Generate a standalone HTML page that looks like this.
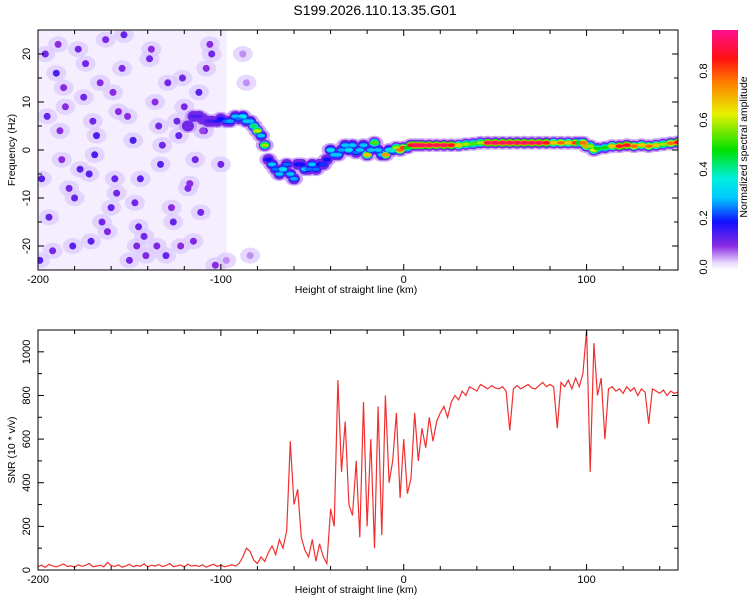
<!DOCTYPE html>
<html><head><meta charset="utf-8">
<style>
body{margin:0;background:#fff;}
svg text{font-family:"Liberation Sans",sans-serif;fill:#000;}
</style></head>
<body>
<svg id="chart" width="750" height="600" xmlns="http://www.w3.org/2000/svg">
<defs>
<linearGradient id="cbar" x1="0" y1="1" x2="0" y2="0">
<stop offset="0" stop-color="#ffffff"/>
<stop offset="0.03" stop-color="#e8d8ff"/>
<stop offset="0.1" stop-color="#8a2be2"/>
<stop offset="0.2" stop-color="#1010ff"/>
<stop offset="0.3" stop-color="#00c8ff"/>
<stop offset="0.38" stop-color="#00f0e0"/>
<stop offset="0.5" stop-color="#00e000"/>
<stop offset="0.65" stop-color="#e8f000"/>
<stop offset="0.78" stop-color="#ff8000"/>
<stop offset="0.88" stop-color="#ff1010"/>
<stop offset="1" stop-color="#ff1090"/>
</linearGradient>
<clipPath id="clipTop"><rect x="38" y="30" width="640" height="240"/></clipPath>
<clipPath id="clipBot"><rect x="38" y="330" width="640" height="240"/></clipPath>
</defs>
<text x="375" y="15" text-anchor="middle" font-size="14">S199.2026.110.13.35.G01</text>
<g id="topPanel"></g>
<g id="botPanel"></g>
<g id="cbPanel"></g>
</svg>
<script>
// ---- data ----
const xMin=-200, xMax=150;
const xTicks=[-200,-100,0,100];
const freqTicks=[-20,-10,0,10,20];
const snrTicks=[0,200,400,600,800,1000];
const cbTicks=[0.0,0.2,0.4,0.6,0.8];
const ridgeX=[-118,-115,-112,-110,-107,-105,-102,-100,-97,-95,-92,-90,-88,-86,-84,-82,-80,-78,-76,-74,-72,-70,-68,-66,-64,-62,-60,-58,-56,-54,-52,-50,-48,-46,-44,-42,-40,-38,-36,-34,-32,-30,-28,-26,-24,-22,-20,-18,-16,-14,-12,-10,-8,-6,-4,-2,0,2,4,6,8,10,14,18,22,26,30,34,38,42,46,50,54,58,62,66,70,74,78,82,86,90,94,96,98,100,102,104,106,110,114,118,122,126,130,134,138,142,146,150];
const ridgeF=[5,7,7,6.5,6,6,6,6.5,6,6,7,6.5,7,6,6,5,4,3,1,-2,-3,-4,-5,-4,-3,-5,-6,-3,-3,-4,-4,-3,-4,-3,-3,-2,0,-1,-1,0,1,0,1,-0.5,0,1,-1,0,1.5,0,-1,-1,0,0,0.5,0,0.5,0.5,1,1,1,1,1,1,1,1,1,1.2,1.3,1.5,1.5,1.5,1.5,1.5,1.5,1.5,1.5,1.5,1.5,1.5,1.5,1.5,1.5,1.5,1.5,0.8,0.8,0,0.3,0.5,0.8,0.8,1,0.8,1,0.8,1,1.2,1.4,1.6];
const ridgeA=[0.12,0.15,0.15,0.14,0.15,0.16,0.18,0.2,0.25,0.28,0.3,0.25,0.35,0.3,0.3,0.45,0.62,0.3,0.6,0.2,0.3,0.25,0.3,0.35,0.25,0.3,0.28,0.2,0.2,0.3,0.25,0.3,0.25,0.2,0.22,0.2,0.35,0.3,0.3,0.28,0.3,0.35,0.3,0.25,0.3,0.3,0.7,0.3,0.55,0.3,0.3,0.75,0.35,0.4,0.6,0.8,0.85,0.5,0.9,0.95,0.95,0.95,0.95,0.95,0.95,0.9,0.7,0.6,0.55,0.6,0.95,0.95,0.95,0.95,0.95,0.95,0.95,0.95,0.9,0.7,0.8,0.7,0.85,0.5,0.8,0.75,0.6,0.65,0.5,0.5,0.7,0.9,0.9,0.8,0.7,0.8,0.7,0.6,0.8,0.9];
const noiseX=[-196,-190,-185,-178,-172,-166,-160,-154,-148,-142,-136,-130,-124,-118,-112,-106,-100,-194,-188,-181,-175,-169,-163,-157,-151,-145,-139,-133,-127,-121,-115,-109,-103,-198,-192,-186,-180,-174,-168,-162,-156,-150,-144,-138,-132,-126,-120,-114,-108,-195,-183,-171,-159,-147,-135,-123,-111,-189,-177,-165,-153,-141,-129,-117,-105,-199,-187,-170,-158,-146,-134,-122,-110,-97,-88,-84,-86];
const noiseF=[20,16,9,21,-5,14,-12,17,2,-18,10,-22,6,-8,12,22,-3,-14,4,-20,11,-1,23,-9,7,-16,19,-3,-12,15,-19,4,-24,-6,-21,13,-10,18,3,-17,8,-23,-6,21,1,-15,9,-2,17,7,-8,-19,12,-11,-20,3,-13,22,-4,-15,24,-22,14,-7,20,-23,-2,6,-6,-20,5,-20,4,-23,20,-22,14];
const noiseA=[0.12,0.15,0.1,0.12,0.14,0.1,0.13,0.11,0.15,0.12,0.1,0.13,0.12,0.11,0.14,0.1,0.12,0.13,0.1,0.14,0.12,0.15,0.11,0.12,0.1,0.13,0.12,0.14,0.1,0.12,0.11,0.13,0.1,0.14,0.12,0.1,0.13,0.12,0.15,0.11,0.1,0.12,0.14,0.1,0.12,0.13,0.11,0.12,0.1,0.13,0.12,0.14,0.1,0.12,0.11,0.13,0.12,0.1,0.14,0.12,0.13,0.11,0.12,0.1,0.12,0.14,0.1,0.12,0.13,0.11,0.12,0.1,0.09,0.06,0.06,0.06,0.06];
const snrStart=-200, snrStep=2;
const snrValues=[15,22,12,25,18,14,20,28,16,19,13,24,17,21,30,15,18,22,14,35,20,16,24,13,19,26,15,21,17,28,14,22,18,25,16,20,30,15,19,23,14,27,18,21,16,24,13,20,26,17,22,15,19,24,18,
30,60,100,85,45,
30,60,40,80,110,70,140,100,
180,590,300,370,150,
90,60,140,40,120,60,30,
280,200,870,450,680,300,
250,500,150,770,200,600,100,750,160,800,
400,500,720,330,600,350,420,
720,500,650,560,700,590,680,720,750,700,770,800,
780,820,800,840,830,820,850,840,830,845,835,
830,840,820,640,830,845,830,840,850,835,830,845,860,840,850,
840,650,860,840,870,830,880,840,900,
1100,450,1040,800,880,600,
830,840,820,830,810,840,820,835,800,830,815,670,830,820,810,825,800,820,810,815];

// ---- axes ----
const L=38,R=678;
const sx=v=>L+(v-xMin)/(xMax-xMin)*(R-L);
const fy=f=>270-(f+25)/50*240;
const sy=v=>570-v/1100*240;
const cy=v=>267-v/0.2*49;
const NS="http://www.w3.org/2000/svg";
function mk(tag,attrs,parent){const e=document.createElementNS(NS,tag);for(const k in attrs)e.setAttribute(k,attrs[k]);parent.appendChild(e);return e;}
const stops=[[0,[255,255,255]],[0.03,[232,216,255]],[0.1,[138,43,226]],[0.2,[16,16,255]],[0.3,[0,200,255]],[0.38,[0,240,224]],[0.5,[0,224,0]],[0.65,[232,240,0]],[0.78,[255,128,0]],[0.88,[255,16,16]],[1,[255,16,144]]];
function cmap(a){for(let i=1;i<stops.length;i++){if(a<=stops[i][0]){const [a0,c0]=stops[i-1],[a1,c1]=stops[i];const t=(a-a0)/(a1-a0);return 'rgb('+c0.map((c,j)=>Math.round(c+(c1[j]-c)*t)).join(',')+')';}}return 'rgb(255,16,144)';}

const topG=document.getElementById('topPanel'), botG=document.getElementById('botPanel'), cbG=document.getElementById('cbPanel');

// spectrogram
const sg=mk('g',{'clip-path':'url(#clipTop)'},topG);
const bg=mk('rect',{x:sx(-200),y:30,width:sx(-97)-sx(-200),height:240,fill:'#f4eeff'},sg);


noiseX.forEach((x,i)=>{
  const h=mk('ellipse',{cx:sx(x),cy:fy(noiseF[i]),rx:10,ry:8,fill:'#dcc8ff',opacity:0.7},sg);
  
  
});
noiseX.forEach((x,i)=>{
  const c=mk('ellipse',{cx:sx(x),cy:fy(noiseF[i]),rx:3.5,ry:3.5,fill:cmap(noiseA[i])},sg);
  
  
});
// layered ridge: halo, then progressively brighter cores
const layers=[[0.05,9,7],[0.12,6,5.5],[0.55,5,4],[0.8,4.5,2.8],[1,4,1.8]];
layers.forEach(([k,rx,ry],li)=>{
  ridgeX.forEach((x,i)=>{
    const a=ridgeA[i];
    let val = li===0?0.05:(li===1?0.12:Math.max(0.12,a*k));
    if(li>=2 && a*k<0.15) return;
    const c=mk('ellipse',{cx:sx(x),cy:fy(ridgeF[i]),rx:rx,ry:ry,fill:cmap(val)},sg);
    
    
  });
});

// snr line
const pts=snrValues.map((v,i)=>sx(snrStart+i*snrStep).toFixed(1)+','+sy(v).toFixed(1)).join(' ');
const line=mk('polyline',{points:pts,fill:'none',stroke:'#f03030','stroke-width':1.2,'clip-path':'url(#clipBot)'},botG);



function frame(g,y0,y1,yTicks,yMap,minorStep,minorMin,minorMax,ylabel,name){
  const r=mk('rect',{x:L,y:y0,width:R-L,height:y1-y0,fill:'none',stroke:'#000','stroke-width':1},g);
  
  
  for(let v=-200;v<=150;v+=20){
    const big=v%100===0, len=big?6:4;
    mk('line',{x1:sx(v),x2:sx(v),y1:y1,y2:y1-len,stroke:'#000'},g);
    mk('line',{x1:sx(v),x2:sx(v),y1:y0,y2:y0+len,stroke:'#000'},g);
  }
  xTicks.forEach(v=>{
    const t=mk('text',{x:sx(v),y:y1+13,'text-anchor':'middle','font-size':11},g);
    t.textContent=v;
    
    
  });
  const xl=mk('text',{x:356,y:y1+23,'text-anchor':'middle','font-size':10.5},g);
  xl.textContent='Height of straight line (km)';
  
  
  for(let v=minorMin;v<=minorMax;v+=minorStep){
    const big=yTicks.includes(v), len=big?6:4;
    mk('line',{x1:L,x2:L+len,y1:yMap(v),y2:yMap(v),stroke:'#000'},g);
    mk('line',{x1:R,x2:R-len,y1:yMap(v),y2:yMap(v),stroke:'#000'},g);
  }
  yTicks.forEach(v=>{
    const t=mk('text',{x:30,y:yMap(v),'text-anchor':'middle','font-size':11,transform:'rotate(-90 30 '+yMap(v)+')'},g);
    t.textContent=v;
    
    
  });
  const ym=(y0+y1)/2;
  const yl=mk('text',{x:15,y:ym,'text-anchor':'middle','font-size':10.5,transform:'rotate(-90 15 '+ym+')'},g);
  yl.textContent=ylabel;
  
  
}
frame(topG,30,270,freqTicks,fy,5,-25,25,'Frequency (Hz)','spectrogram');
frame(botG,330,570,snrTicks,sy,100,0,1100,'SNR (10 * v/v)','snr');

// colorbar
const cr=mk('rect',{x:712,y:30,width:26,height:240,fill:'url(#cbar)'},cbG);


cbTicks.forEach(v=>{
  const t=mk('text',{x:707,y:cy(v),'text-anchor':'middle','font-size':11,transform:'rotate(-90 707 '+cy(v)+')'},cbG);
  t.textContent=v.toFixed(1);
  
  
});
const title=mk('text',{x:0,y:0,'text-anchor':'middle','font-size':10.5,transform:'translate(747,147) rotate(-90)'},cbG);
title.textContent='Normalized spectral amplitude';


</script>
</body></html>
